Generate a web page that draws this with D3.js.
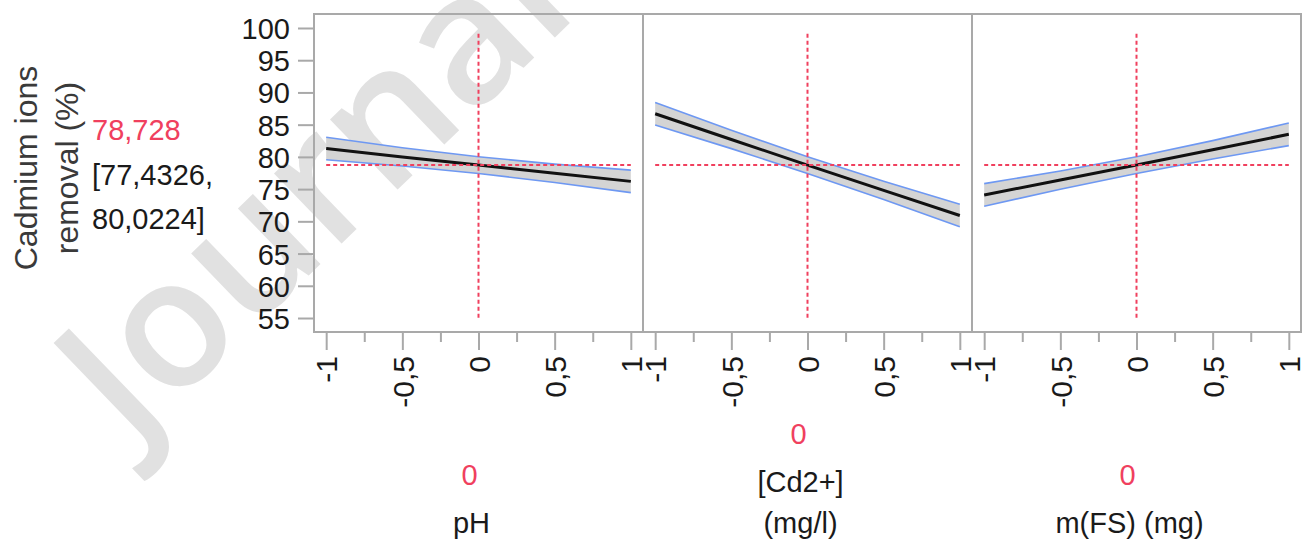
<!DOCTYPE html>
<html><head><meta charset="utf-8">
<script src="https://cdn.jsdelivr.net/npm/d3@7"></script>
<style>
body{margin:0;background:#fff}
svg{display:block}
text{font-family:"Liberation Sans",Arial,sans-serif}
</style>
</head><body>
<svg id="chart" width="1311" height="543"></svg>
<script>
// ---------- data ----------
const factorLabelLines = [["pH"], ["[Cd2+]", "(mg/l)"], ["m(FS) (mg)"]];
const factorCurrent = ["0", "0", "0"];
const xLevels = [-1, -0.5, 0, 0.5, 1];

const fitPH    = [81.30, 80.00, 78.728, 77.45, 76.20];
const upperPH  = [83.05, 81.42, 80.0224, 78.87, 77.95];
const lowerPH  = [79.55, 78.58, 77.4326, 76.03, 74.45];

const fitCd    = [86.70, 82.70, 78.728, 74.80, 70.90];
const upperCd  = [88.45, 84.12, 80.0224, 76.22, 72.65];
const lowerCd  = [84.95, 81.28, 77.4326, 73.38, 69.15];

const fitFS    = [74.10, 76.40, 78.728, 81.10, 83.50];
const upperFS  = [75.85, 77.82, 80.0224, 82.52, 85.25];
const lowerFS  = [72.35, 74.98, 77.4326, 79.68, 81.75];

const yTickValues = [55, 60, 65, 70, 75, 80, 85, 90, 95, 100];
const xMajorTicks = [-1, -0.5, 0, 0.5, 1];
const xMinorTicks = [-0.75, -0.25, 0.25, 0.75];
const xTickLabels = ["-1", "-0,5", "0", "0,5", "1"];

const responseName = ["Cadmium ions", "removal (%)"];
const predictedValue = 78.728;
const predictedText = "78,728";
const ciText = ["[77,4326,", "80,0224]"];
const refVerticalRange = [55, 99.1];
const refHorizontalRange = [-1, 1];
const watermarkText = "Journal";

// ---------- layout ----------
const svg = d3.select("#chart");
const plotL = 314, plotR = 1301, plotT = 14, plotB = 332;
const panelW = (plotR - plotL) / 3;
const frameColor = "#a9a9a9";
const red = "#f0405e";
const blue = "#6e98f2";

svg.append("rect").attr("width", 1311).attr("height", 543).attr("fill", "#fff");

// watermark
svg.append("text")
  .attr("transform", "translate(131,447) rotate(-44)")
  .style("font-family", "'Open Sans', sans-serif")
  .style("font-weight", 600)
  .style("font-size", "180px")
  .attr("fill", "#e1e1e1")
  .text(watermarkText);

const y = d3.scaleLinear().domain([52.83, 102.17]).range([plotB, plotT]);

// y axis
const yAxis = svg.append("g").attr("transform", `translate(${plotL},0)`)
  .call(d3.axisLeft(y).tickValues(yTickValues).tickSize(16).tickPadding(8));
yAxis.select(".domain").remove();
yAxis.selectAll("line").attr("stroke", frameColor).attr("stroke-width", 2);
yAxis.selectAll("text").attr("fill", "#1a1a1a").style("font-size", "29px")
  .style("font-family", "'Liberation Sans', Arial, sans-serif").attr("dy", "0.36em");

const panels = [
  {fit: fitPH, up: upperPH, lo: lowerPH},
  {fit: fitCd, up: upperCd, lo: lowerCd},
  {fit: fitFS, up: upperFS, lo: lowerFS}
];

panels.forEach((p, i) => {
  const x0 = plotL + i * panelW, x1 = x0 + panelW;
  const x = d3.scaleLinear().domain([-1.08, 1.08]).range([x0, x1]);
  const g = svg.append("g");

  // band
  const pts = xLevels.map((v, k) => ({x: v, f: p.fit[k], u: p.up[k], l: p.lo[k]}));
  g.append("path").datum(pts)
    .attr("d", d3.area().x(d => x(d.x)).y0(d => y(d.l)).y1(d => y(d.u)))
    .attr("fill", "#d4d4d4");
  g.append("path").datum(pts)
    .attr("d", d3.line().x(d => x(d.x)).y(d => y(d.u)))
    .attr("fill", "none").attr("stroke", blue).attr("stroke-width", 1.6);
  g.append("path").datum(pts)
    .attr("d", d3.line().x(d => x(d.x)).y(d => y(d.l)))
    .attr("fill", "none").attr("stroke", blue).attr("stroke-width", 1.6);
  g.append("path").datum(pts)
    .attr("d", d3.line().x(d => x(d.x)).y(d => y(d.f)))
    .attr("fill", "none").attr("stroke", "#111").attr("stroke-width", 3);

  // reference lines
  g.append("line")
    .attr("x1", x(refHorizontalRange[0])).attr("x2", x(refHorizontalRange[1]))
    .attr("y1", y(predictedValue)).attr("y2", y(predictedValue))
    .attr("stroke", red).attr("stroke-width", 2).attr("stroke-dasharray", "4,3");
  g.append("line")
    .attr("x1", x(0)).attr("x2", x(0))
    .attr("y1", y(refVerticalRange[1])).attr("y2", y(refVerticalRange[0]))
    .attr("stroke", red).attr("stroke-width", 2).attr("stroke-dasharray", "4,3");

  // x axis: major
  const ax = svg.append("g").attr("transform", `translate(0,${plotB})`)
    .call(d3.axisBottom(x).tickValues(xMajorTicks).tickSize(18)
      .tickFormat((d, k) => xTickLabels[k]));
  ax.select(".domain").remove();
  ax.selectAll("line").attr("stroke", frameColor).attr("stroke-width", 2);
  ax.selectAll("text")
    .attr("transform", "rotate(-90)")
    .attr("text-anchor", "end")
    .attr("x", -24).attr("y", 0).attr("dy", "0.36em")
    .attr("fill", "#1a1a1a")
    .style("font-size", "30px")
    .style("font-family", "'Liberation Sans', Arial, sans-serif");
  // minor
  const axm = svg.append("g").attr("transform", `translate(0,${plotB})`)
    .call(d3.axisBottom(x).tickValues(xMinorTicks).tickSize(10).tickFormat(""));
  axm.select(".domain").remove();
  axm.selectAll("line").attr("stroke", frameColor).attr("stroke-width", 2);

  // factor labels
  const cx = (x0 + x1) / 2 - 7;
  const lines = factorLabelLines[i];
  const lastBase = 533, step = 41;
  lines.forEach((t, k) => {
    svg.append("text").attr("x", cx).attr("y", lastBase - (lines.length - 1 - k) * step)
      .attr("text-anchor", "middle").attr("fill", "#1a1a1a").style("font-size", "29px").text(t);
  });
  svg.append("text").attr("x", cx - 2).attr("y", lastBase - (lines.length - 1) * step - 48)
    .attr("text-anchor", "middle").attr("fill", red).style("font-size", "29px").text(factorCurrent[i]);
});

// frame & dividers
svg.append("rect").attr("x", plotL).attr("y", plotT)
  .attr("width", plotR - plotL).attr("height", plotB - plotT)
  .attr("fill", "none").attr("stroke", frameColor).attr("stroke-width", 2);
[1, 2].forEach(k => {
  svg.append("line").attr("x1", plotL + k * panelW).attr("x2", plotL + k * panelW)
    .attr("y1", plotT).attr("y2", plotB).attr("stroke", frameColor).attr("stroke-width", 2);
});

// response name
responseName.forEach((t, k) => {
  svg.append("text").attr("transform", `translate(${37 + k * 41},168) rotate(-90)`)
    .attr("text-anchor", "middle").attr("fill", "#3a3a3a").style("font-size", "32px").text(t);
});
svg.append("text").attr("x", 92).attr("y", 140).attr("fill", red).style("font-size", "29px").text(predictedText);
ciText.forEach((t, k) => {
  svg.append("text").attr("x", 92).attr("y", 185 + k * 44).attr("fill", "#1a1a1a").style("font-size", "29px").text(t);
});
</script>
</body></html>
